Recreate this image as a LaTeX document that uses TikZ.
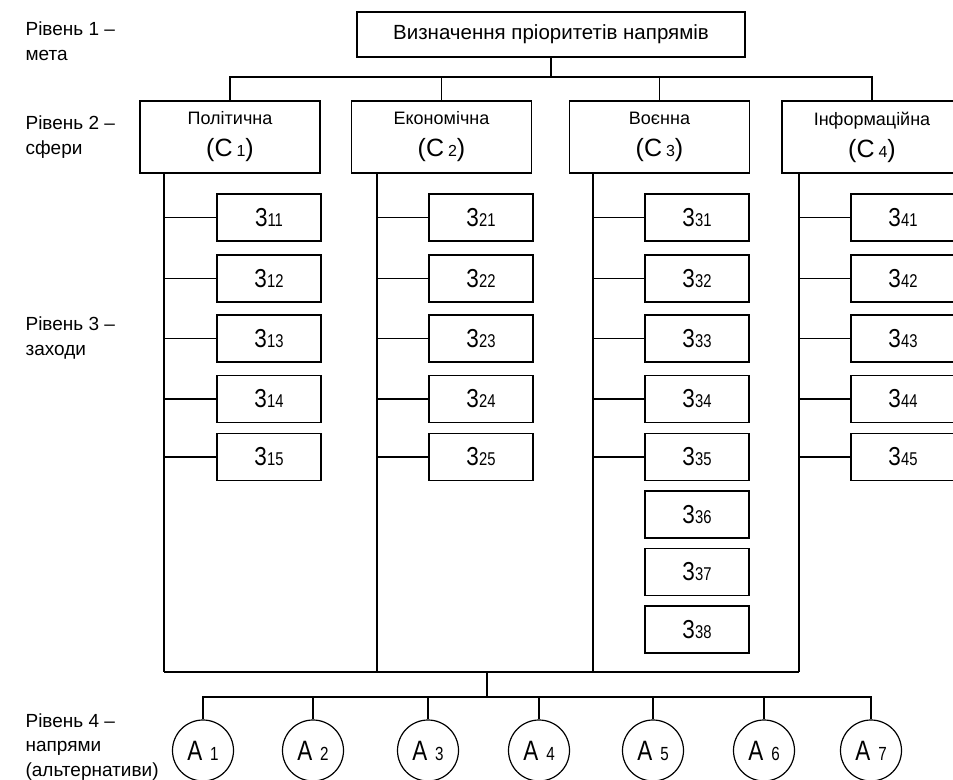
\documentclass[tikz,border=0pt]{standalone}
\usepackage{fontspec}
\setmainfont{Liberation Sans}
\newfontfamily\condfont{Liberation Sans}[FakeStretch=0.8]
\newcommand\zz[1]{{\condfont\fontsize{26}{26}\selectfont З\fontsize{18.5}{18.5}\selectfont #1}}
\newcommand\ccl[1]{{\fontsize{25}{25}\selectfont (C\hspace{4pt}\fontsize{16}{16}\selectfont #1\fontsize{25}{25}\selectfont )}}
\newcommand\aal[1]{{\condfont\fontsize{28}{28}\selectfont A\hspace{8pt}\fontsize{19}{19}\selectfont #1}}
\begin{document}
\begin{tikzpicture}[x=1pt,y=-1pt,
  line width=1.2pt,
  goalbox/.style={draw, rectangle, minimum width=388pt, minimum height=45pt, inner sep=0pt, font=\fontsize{20.5}{21}\selectfont},
  sphere/.style={draw, rectangle, minimum width=180pt, minimum height=72pt, inner sep=0pt, align=center, font=\fontsize{18}{32}\selectfont},
  zbox/.style={draw, rectangle, minimum width=104pt, minimum height=47pt, inner sep=0pt},
  alt/.style={draw, circle, minimum size=61pt, inner sep=0pt},
  lvl/.style={anchor=base west, align=left, inner sep=0pt, font=\fontsize{19}{24.5}\selectfont}
]
\useasboundingbox (0,0) rectangle (953,779);

% level labels (anchor = baseline of the last line)
\node[lvl] (l1) at (25,60) {Рівень 1 –\\мета};
\node[lvl] (l2) at (25,154) {Рівень 2 –\\сфери};
\node[lvl] (l3) at (25,355) {Рівень 3 –\\заходи};
\node[lvl] (l4) at (25,776) {Рівень 4 –\\напрями\\(альтернативи)};

% level 1
\node[goalbox] (top) at (551,34.5) {Визначення пріоритетів напрямів};

% level 2
\node[sphere] (c1) at (230,137) {Політична\\\ccl{1}};
\node[sphere] (c2) at (441.5,137) {Економічна\\\ccl{2}};
\node[sphere] (c3) at (659.5,137) {Воєнна\\\ccl{3}};
\node[sphere] (c4) at (872,137) {Інформаційна\\\ccl{4}};

\coordinate (b) at (551,77);
\draw (top.south) -- (b);
\draw (c1.north) |- (b) -| (c4.north);
\draw (c2.north) -- (c2.north |- b);
\draw (c3.north) -- (c3.north |- b);

% trunks
\coordinate (t1) at (164,672);
\coordinate (t2) at (377,672);
\coordinate (t3) at (593,672);
\coordinate (t4) at (799,672);
\draw (t1 |- c1.south) -- (t1);
\draw (t2 |- c2.south) -- (t2);
\draw (t3 |- c3.south) -- (t3);
\draw (t4 |- c4.south) -- (t4);

% level 3 boxes
\foreach \col/\cx/\n in {1/269/5, 2/481/5, 3/697/8, 4/903/5}{
  \foreach \r/\cy in {1/217.5, 2/278.5, 3/338.5, 4/399, 5/457, 6/514.5, 7/572, 8/629.5}{
    \ifnum\r>\n\else
      \node[zbox] (z\col\r) at (\cx,\cy) {\zz{\col\r}};
      \ifnum\r<6
        \draw (z\col\r.west) -- (z\col\r.west -| t\col);
      \fi
    \fi
  }
}

% bottom
\draw (t1) -- (t4);
\coordinate (m) at (487,672);
\coordinate (h) at (487,697);
\draw (m) -- (h);

\node[alt] (a1) at (203,750.5) {\aal{1}};
\node[alt] (a2) at (313,750.5) {\aal{2}};
\node[alt] (a3) at (428,750.5) {\aal{3}};
\node[alt] (a4) at (539,750.5) {\aal{4}};
\node[alt] (a5) at (653,750.5) {\aal{5}};
\node[alt] (a6) at (764,750.5) {\aal{6}};
\node[alt] (a7) at (871,750.5) {\aal{7}};

\draw (a1.north) |- (h) -| (a7.north);
\foreach \k in {2,...,6}{ \draw (a\k.north) -- (a\k.north |- h); }
\end{tikzpicture}
\end{document}
